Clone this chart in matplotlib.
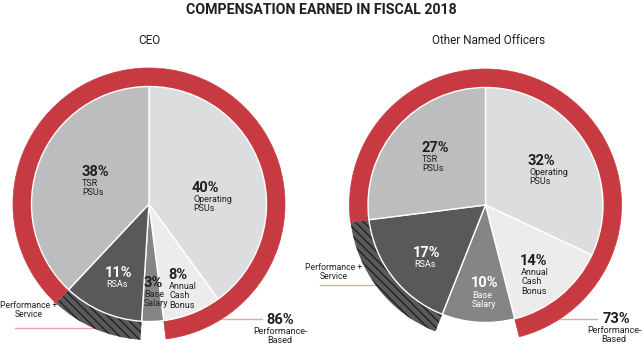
import matplotlib.pyplot as plt
import matplotlib as mpl

mpl.rcParams['font.family'] = ['Roboto', 'DejaVu Sans']
mpl.rcParams['hatch.linewidth'] = 1.0

W, H = 642, 346

# data
components = ['Operating PSUs', 'Annual Cash Bonus', 'Base Salary', 'RSAs', 'TSR PSUs']
ceo_values = [40, 8, 3, 11, 38]
ono_values = [32, 14, 10, 17, 27]
ceo_perf_based = 86
ono_perf_based = 73
# which pay type each component is
ring_type = ['perf', 'perf', 'none', 'service', 'perf']

slice_colors = ['#dcdddf', '#ececec', '#858587', '#58595b', '#bcbdbf']
RED = '#c83a41'
TXT = '#231f20'


def Y(y):
    return H - y


fig = plt.figure(figsize=(W / 100, H / 100), dpi=100)
ax = fig.add_axes([0, 0, 1, 1])


def draw_pie(cx, cy, values):
    r_pie = 117.5
    r_ring = 136
    wedges, _ = ax.pie(values, colors=slice_colors, startangle=90, counterclock=False,
                       center=(cx, Y(cy)), radius=r_pie, frame=True,
                       wedgeprops=dict(edgecolor='white', linewidth=1))
    for w in wedges:
        w.set_zorder(3)
    ring, _ = ax.pie(values, startangle=90, counterclock=False,
                     center=(cx, Y(cy)), radius=r_ring, frame=True,
                     wedgeprops=dict(width=r_ring - r_pie, linewidth=0))
    for w, t in zip(ring, ring_type):
        w.set_zorder(2)
        if t == 'perf':
            w.set_facecolor(RED)
            w.set_edgecolor(RED)
            w.set_linewidth(0.5)
        elif t == 'service':
            w.set_facecolor('#5a5a5c')
            w.set_edgecolor('#222222')
            w.set_hatch('\\\\\\\\')
            w.set_linewidth(0)
        else:
            w.set_visible(False)


draw_pie(149, 204, ceo_values)
draw_pie(485.5, 205, ono_values)

ax.set_xlim(0, W)
ax.set_ylim(0, H)
ax.set_aspect('equal')
ax.axis('off')


def slice_label(x, y, pct, label, color=TXT, ha='left', gap=7):
    ax.text(x, Y(y), f'{pct}%', fontsize=10.5, fontweight='bold', color=color,
            ha=ha, va='center', zorder=5)
    ax.text(x + 1, Y(y + gap), label, fontsize=6.5, color=color, ha=ha, va='top',
            linespacing=1.05, zorder=5)


# CEO labels
slice_label(81, 172, ceo_values[4], 'TSR\nPSUs')
slice_label(192, 188, ceo_values[0], 'Operating\nPSUs')
slice_label(105, 273, ceo_values[3], 'RSAs', color='white')
slice_label(143, 283, ceo_values[2], 'Base\nSalary')
slice_label(168, 275, ceo_values[1], 'Annual\nCash\nBonus')

# Other Named Officers labels
slice_label(421, 148, ono_values[4], 'TSR\nPSUs')
slice_label(528, 161, ono_values[0], 'Operating\nPSUs')
slice_label(413, 253, ono_values[3], 'RSAs', color='white')
slice_label(471, 283, ono_values[2], 'Base\nSalary', color='white', gap=8)
slice_label(520, 261, ono_values[1], 'Annual\nCash\nBonus')

# callouts
LINE = '#eba3a6'
ax.plot([15, 98], [Y(328), Y(328)], color=LINE, lw=1, zorder=1)
ax.text(29, Y(310), 'Performance +\nService', fontsize=6.2, color=TXT, ha='center',
        va='center', linespacing=1.05)
ax.plot([320, 383], [Y(285), Y(285)], color=LINE, lw=1, zorder=1)
ax.text(334, Y(272), 'Performance +\nService', fontsize=6.2, color=TXT, ha='center',
        va='center', linespacing=1.05)

ax.plot([222, 262], [Y(319), Y(319)], color=LINE, lw=1, zorder=1)
ax.text(280, Y(320), f'{ceo_perf_based}%', fontsize=10.5, fontweight='bold', color=TXT,
        ha='center', va='center')
ax.text(280, Y(327), 'Performance-\nBased', fontsize=6.5, color=TXT, ha='center',
        va='top', linespacing=1.05)

ax.plot([560, 597], [Y(319), Y(319)], color=LINE, lw=1, zorder=1)
ax.text(616, Y(319), f'{ono_perf_based}%', fontsize=10.5, fontweight='bold', color=TXT,
        ha='center', va='center')
ax.text(614, Y(326), 'Performance-\nBased', fontsize=6.5, color=TXT, ha='center',
        va='top', linespacing=1.05)

# titles
ax.text(321, Y(10), 'COMPENSATION EARNED IN FISCAL 2018', fontsize=10.2, fontweight='bold',
        color=TXT, ha='center', va='center')
ax.text(149, Y(40), 'CEO', fontsize=8.5, color=TXT, ha='center', va='center')
ax.text(489, Y(40), 'Other Named Officers', fontsize=8.5, color=TXT, ha='center', va='center')

fig.savefig('out.png', dpi=100)
